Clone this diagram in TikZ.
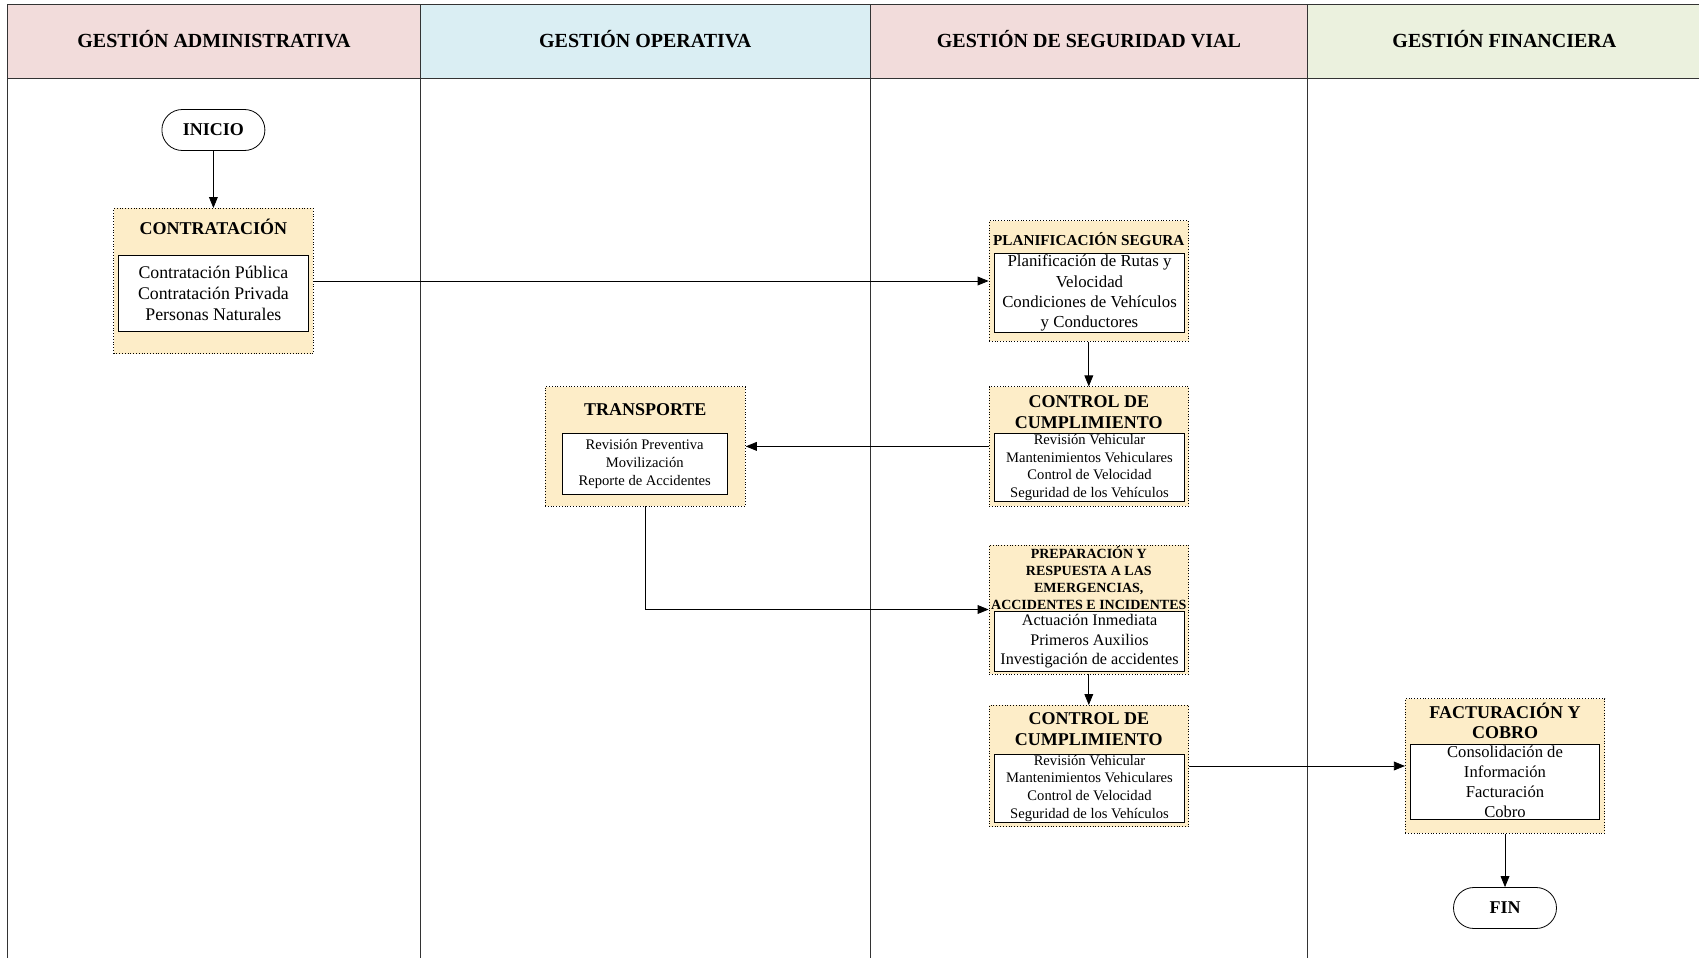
\documentclass[tikz,border=0pt]{standalone}
\usepackage{fontspec}
\setmainfont{Liberation Serif}
\usepackage{xcolor}
\usetikzlibrary{arrows.meta}

\definecolor{headpink}{RGB}{242,220,219}
\definecolor{headblue}{RGB}{218,238,243}
\definecolor{headgreen}{RGB}{235,241,222}
\definecolor{procfill}{RGB}{253,237,200}

\tikzset{
  lanehead/.style={rectangle,draw=black!80,thin,minimum height=36.85pt,inner sep=0pt,
    text height=6.6pt,text depth=0pt,font=\fontsize{10}{12}\selectfont\bfseries},
  terminal/.style={rectangle,rounded corners=10.2pt,draw,thin,minimum width=51.5pt,
    minimum height=20.5pt,font=\fontsize{9}{11}\selectfont\bfseries},
  procbox/.style={rectangle,draw,densely dotted,fill=procfill,minimum width=99.8pt,inner sep=0pt},
  proctitle/.style={inner sep=0pt,align=center,font=\fontsize{9}{10.3}\selectfont\bfseries},
  procitems/.style={rectangle,draw,thin,fill=white,inner sep=0pt,align=center,minimum width=94.9pt},
}

\begin{document}
\begin{tikzpicture}[x=0.5pt,y=-0.5pt]
\useasboundingbox (0,0) rectangle (1699,958);

% lanes
\begin{scope}
    \node[lanehead,fill=headpink,minimum width=206.4pt] (hadm) at (214,41.15) {GESTIÓN ADMINISTRATIVA};
    \node[lanehead,fill=headblue,minimum width=224.8pt] (hope) at (645.2,41.15) {GESTIÓN OPERATIVA};
    \node[lanehead,fill=headpink,minimum width=218.9pt] (hseg) at (1088.9,41.15) {GESTIÓN DE SEGURIDAD VIAL};
    \node[lanehead,fill=headgreen,minimum width=196.6pt] (hfin) at (1504.4,41.15) {GESTIÓN FINANCIERA};
    \draw[black!80,thin] (7.6,78) -- (7.6,962);
    \draw[black!80,thin] (420.4,78) -- (420.4,962);
    \draw[black!80,thin] (870,78) -- (870,962);
    \draw[black!80,thin] (1307.8,78) -- (1307.8,962);
\end{scope}

% terminals
\node[terminal] (inicio) at (213.4,130) {INICIO};
\node[terminal] (fin) at (1505,908) {FIN};

% process blocks
\node[procbox,minimum height=72.6pt] (contr) at (213.4,281) {};
\node[proctitle] (contrT) at (213.4,226.5) {CONTRATACIÓN};
\node[procitems,minimum width=95.4pt,minimum height=38pt,font=\fontsize{8.9}{10.5}\selectfont] (contrI) at (213.4,293.6)
    {Contratación Pública\\Contratación Privada\\Personas Naturales};

\node[procbox,minimum height=60.2pt] (plan) at (1088.8,281) {};
\node[proctitle,font=\fontsize{7.6}{9}\selectfont\bfseries] (planT) at (1088.8,239.5) {PLANIFICACIÓN SEGURA};
\node[procitems,minimum height=39.6pt,font=\fontsize{8.4}{10.1}\selectfont] (planI) at (1089.5,293)
    {Planificación de Rutas y\\Velocidad\\Condiciones de Vehículos\\y Conductores};

\node[procbox,minimum height=59.6pt] (ctrlA) at (1088.8,446.4) {};
\node[proctitle] (ctrlAT) at (1088.8,412) {CONTROL DE\\CUMPLIMIENTO};
\node[procitems,minimum height=34.2pt,font=\fontsize{7.3}{8.85}\selectfont] (ctrlAI) at (1089.5,467.5)
    {Revisión Vehicular\\Mantenimientos Vehiculares\\Control de Velocidad\\Seguridad de los Vehículos};

\node[procbox,minimum width=100.2pt,minimum height=59.6pt] (transp) at (645.2,446.4) {};
\node[proctitle] (transpT) at (645.2,409.6) {TRANSPORTE};
\node[procitems,minimum width=82.4pt,minimum height=30.3pt,font=\fontsize{7.3}{8.9}\selectfont] (transpI) at (644.7,463.7)
    {Revisión Preventiva\\Movilización\\Reporte de Accidentes};

\node[procbox,minimum height=64.5pt] (prep) at (1088.8,609.5) {};
\node[proctitle,font=\fontsize{7}{8.5}\selectfont\bfseries] (prepT) at (1088.8,578)
    {PREPARACIÓN Y\\RESPUESTA A LAS\\EMERGENCIAS,\\ACCIDENTES E INCIDENTES};
\node[procitems,minimum height=30.4pt,font=\fontsize{8.1}{9.75}\selectfont] (prepI) at (1089.5,641.4)
    {Actuación Inmediata\\Primeros Auxilios\\Investigación de accidentes};

\node[procbox,minimum height=60.6pt] (ctrlB) at (1088.8,766) {};
\node[proctitle] (ctrlBT) at (1088.8,729.2) {CONTROL DE\\CUMPLIMIENTO};
\node[procitems,minimum height=34.2pt,font=\fontsize{7.3}{8.85}\selectfont] (ctrlBI) at (1089.5,788.2)
    {Revisión Vehicular\\Mantenimientos Vehiculares\\Control de Velocidad\\Seguridad de los Vehículos};

\node[procbox,minimum width=99.7pt,minimum height=67.2pt] (fact) at (1505,766) {};
\node[proctitle] (factT) at (1505,721) {FACTURACIÓN Y\\COBRO};
\node[procitems,minimum width=94.3pt,minimum height=37.3pt,font=\fontsize{8.3}{10.1}\selectfont] (factI) at (1505,781.7)
    {Consolidación de\\Información\\Facturación\\Cobro};

% connectors
\begin{scope}[>={Triangle[length=5.5pt,width=4.4pt]},
              every edge/.style={draw=black,thin}]
    \path [->] (inicio) edge (contr);
    \path [->] (contr) edge (plan);
    \path [->] (plan) edge (ctrlA);
    \path [->] (ctrlA) edge (transp);
    \draw [->,thin] (transp.south) |- (prep.west);
    \path [->] (prep) edge (ctrlB);
    \path [->] (ctrlB) edge (fact);
    \path [->] (fact) edge (fin);
\end{scope}

\end{tikzpicture}
\end{document}
